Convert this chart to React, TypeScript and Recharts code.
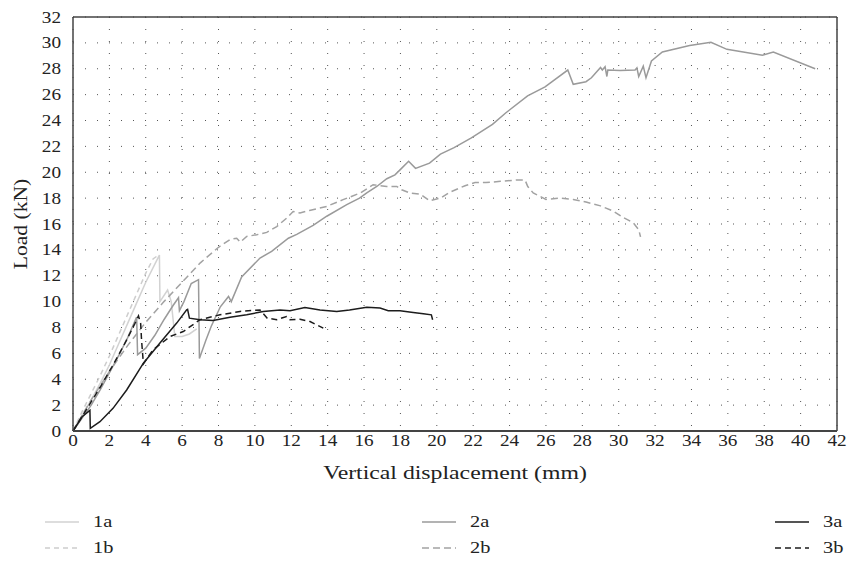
import React from 'react';
import { LineChart, Line, XAxis, YAxis, CartesianGrid, ReferenceLine, Label } from 'recharts';

// ---- data (Vertical displacement mm, Load kN) ----
const s1a: [number, number][] = [
  [0, 0], [0.5, 1.2], [1, 2.4], [1.5, 3.7], [2, 5.1], [2.5, 6.7], [3, 8.3], [3.5, 9.9],
  [4, 11.5], [4.5, 12.9], [4.75, 13.6], [4.78, 10.0], [5.2, 10.9], [5.4, 10.0], [5.6, 7.3],
  [6.0, 7.3], [6.4, 7.5], [6.8, 7.9],
];
const s1b: [number, number][] = [
  [0, 0], [0.5, 1.5], [1, 2.9], [1.5, 4.3], [2, 5.8], [2.5, 7.4], [3, 9.0], [3.5, 10.6],
  [4, 12.2], [4.4, 13.3], [4.6, 13.5],
];
const s2a: [number, number][] = [
  [0, 0], [0.5, 1.0], [1, 2.0], [1.5, 3.2], [2, 4.5], [2.5, 5.8], [3, 7.2], [3.5, 8.8],
  [3.55, 5.9], [4, 6.4], [4.5, 7.4], [5, 8.6], [5.5, 9.7], [5.8, 10.3], [5.85, 9.3],
  [6.1, 10.0], [6.5, 11.4], [6.9, 11.7], [6.95, 5.6], [7.3, 7.0], [7.6, 8.1], [8.1, 9.6],
  [8.55, 10.4], [8.7, 10.0], [9.27, 11.9], [10.28, 13.37], [10.92, 13.88], [11.84, 14.9],
  [12.3, 15.2], [13.2, 15.9], [13.95, 16.6], [15.05, 17.5], [15.75, 18.0], [16.15, 18.4],
  [16.7, 18.9], [17.25, 19.5], [17.7, 19.8], [18.06, 20.3], [18.45, 20.85], [18.83, 20.3],
  [19.6, 20.7], [20.2, 21.4], [20.95, 21.9], [21.9, 22.65], [23.06, 23.7], [23.8, 24.6],
  [24.99, 25.9], [25.95, 26.6], [27.2, 27.9], [27.5, 26.8], [28.2, 27.0], [28.5, 27.3],
  [29.0, 28.1], [29.1, 27.9], [29.25, 28.15], [29.35, 27.4], [29.4, 27.9], [30.07, 27.86],
  [30.9, 27.9], [31.0, 28.07], [31.1, 27.4], [31.35, 28.2], [31.5, 27.3], [31.8, 28.6],
  [32.4, 29.3], [33.9, 29.8], [35.07, 30.05], [35.95, 29.5], [37.9, 29.05], [38.5, 29.3],
  [40.8, 28.0],
];
const s2b: [number, number][] = [
  [0, 0], [1, 2.4], [2, 4.6], [3, 6.6], [4, 8.4], [5, 10.0], [6, 11.5], [7, 13.0],
  [8, 14.2], [8.63, 14.8], [9.0, 14.9], [9.2, 14.6], [9.55, 15.04], [10.1, 15.17],
  [10.65, 15.35], [11.2, 15.8], [11.75, 16.46], [12.1, 16.97], [12.48, 16.85], [13.0, 17.05],
  [13.95, 17.36], [14.85, 17.88], [15.8, 18.4], [16.5, 19.04], [17.25, 18.9], [17.8, 18.9],
  [18.07, 18.65], [18.5, 18.4], [19.1, 18.3], [19.6, 17.8], [20.2, 18.0], [20.7, 18.45],
  [21.55, 18.96], [22.1, 19.2], [22.7, 19.2], [23.5, 19.3], [24.4, 19.4], [24.85, 19.4],
  [25.0, 18.9], [25.3, 18.4], [26.0, 17.9], [26.8, 18.0], [27.5, 17.9], [28.2, 17.7],
  [29.0, 17.4], [29.7, 17.0], [30.25, 16.5], [30.8, 16.1], [31.1, 15.56], [31.2, 15.0],
];
const s3a: [number, number][] = [
  [0, 0], [0.5, 1.1], [0.93, 1.6], [0.95, 0.2], [1.48, 0.72], [2.2, 1.75], [2.95, 3.17],
  [3.87, 5.24], [4.78, 6.8], [5.7, 8.34], [6.25, 9.36], [6.3, 9.4], [6.4, 8.72], [6.98, 8.6],
  [7.7, 8.54], [8.63, 8.8], [9.55, 8.98], [10.46, 9.24], [11.38, 9.36], [11.93, 9.3],
  [12.75, 9.55], [13.58, 9.36], [14.5, 9.24], [15.2, 9.36], [16.15, 9.57], [16.88, 9.5],
  [17.33, 9.3], [17.98, 9.3], [18.7, 9.16], [19.26, 9.06], [19.7, 8.98], [19.77, 8.6],
];
const s3b: [number, number][] = [
  [0, 0], [0.8, 1.8], [1.5, 3.4], [2.2, 5.1], [2.9, 6.9], [3.4, 8.3], [3.6, 8.9], [3.72, 8.3],
  [3.77, 7.0], [3.87, 5.2], [4.4, 6.27], [5.33, 7.3], [6.06, 7.69], [6.98, 8.6], [8.08, 8.98],
  [9.18, 9.24], [10.28, 9.36], [10.68, 8.72], [11.2, 8.6], [11.74, 8.85], [11.93, 8.6],
  [12.48, 8.64], [13.03, 8.46], [13.76, 7.95],
];

const X_TICKS = [0, 2, 4, 6, 8, 10, 12, 14, 16, 18, 20, 22, 24, 26, 28, 30, 32, 34, 36, 38, 40, 42];
const Y_TICKS = [0, 2, 4, 6, 8, 10, 12, 14, 16, 18, 20, 22, 24, 26, 28, 30, 32];
const X_LABEL = 'Vertical displacement (mm)';
const Y_LABEL = 'Load (kN)';

const SERIES = [
  { name: '1a', data: s1a, color: '#d2d2d2', dash: undefined as string | undefined },
  { name: '1b', data: s1b, color: '#cdcdcd', dash: '5 4' },
  { name: '2a', data: s2a, color: '#9a9a9a', dash: undefined },
  { name: '2b', data: s2b, color: '#a2a2a2', dash: '7 4' },
  { name: '3a', data: s3a, color: '#1c1c1c', dash: undefined },
  { name: '3b', data: s3b, color: '#1c1c1c', dash: '6 4' },
];

const FONT = '"Liberation Serif", "Times New Roman", serif';
const SX = 1.2;
const TXT = '#222';

const XTick = (props: any) => {
  const { x, y, payload } = props;
  return (
    <text transform={`translate(${x},${y}) scale(${SX},1)`} x={0} y={0} dy="0.71em"
      textAnchor="middle" fontFamily={FONT} style={{ fontFamily: FONT, fontSize: 16 }} fill={TXT}>
      {payload.value}
    </text>
  );
};

const YTick = (props: any) => {
  const { x, y, payload } = props;
  return (
    <text transform={`translate(${x},${y}) scale(${SX},1)`} x={0} y={0} dy="0.35em"
      textAnchor="end" fontFamily={FONT} style={{ fontFamily: FONT, fontSize: 16 }} fill={TXT}>
      {payload.value}
    </text>
  );
};

const XLabelContent = (props: any) => {
  const vb = props.viewBox || {};
  const cx = vb.x + vb.width / 2;
  const cy = vb.y + 48;
  return (
    <text transform={`translate(${cx},${cy}) scale(1.25,1)`} x={0} y={0} textAnchor="middle"
      fontFamily={FONT} style={{ fontFamily: FONT, fontSize: 19 }} fill={TXT}>
      {X_LABEL}
    </text>
  );
};

const YLabelContent = (props: any) => {
  const vb = props.viewBox || {};
  const cx = vb.x + 27;
  const cy = vb.y + vb.height / 2;
  return (
    <text transform={`translate(${cx},${cy}) rotate(-90) scale(1.2,1)`} x={0} y={0} textAnchor="middle"
      fontFamily={FONT} style={{ fontFamily: FONT, fontSize: 18 }} fill={TXT}>
      {Y_LABEL}
    </text>
  );
};

const legendCols = [
  { items: ['1a', '1b'], left: 45 },
  { items: ['2a', '2b'], left: 422 },
  { items: ['3a', '3b'], left: 775 },
];

const LegendBlock = () => (
  <div style={{ position: 'absolute', left: 0, top: 512, width: 850, height: 56 }}>
    {legendCols.map((col) =>
      col.items.map((nm, i) => {
        const s = SERIES.find((q) => q.name === nm)!;
        return (
          <div key={nm} style={{ position: 'absolute', left: col.left, top: i * 26, height: 20, display: 'flex', alignItems: 'center' }}>
            <svg width={34} height={10} style={{ display: 'block' }}>
              <line x1={0} y1={5} x2={34} y2={5} stroke={s.color} strokeWidth={1.5} strokeDasharray={s.dash} />
            </svg>
            <span style={{ marginLeft: 14, fontFamily: FONT, fontSize: 17, color: TXT, display: 'inline-block', transform: `scaleX(${SX})`, transformOrigin: 'left center' }}>{nm}</span>
          </div>
        );
      })
    )}
  </div>
);

export default function App() {
  return (
    <div style={{ position: 'absolute', left: 0, top: 0, width: 850, height: 561, background: '#fff', fontFamily: FONT }}>
      <LineChart width={850} height={561} margin={{ top: 17, right: 13, bottom: 70, left: 0 }}>
        <CartesianGrid stroke="#555" strokeWidth={1} horizontalStrokeDasharray="1 11.13" verticalStrokeDasharray="1 11.9"
          strokeDasharray="1 11" horizontalValues={Y_TICKS} verticalValues={X_TICKS} />
        <XAxis type="number" dataKey="x" domain={[0, 42]} ticks={X_TICKS} interval={0} tickLine={false}
          tickSize={0} tickMargin={4} height={60} tick={<XTick />} axisLine={{ stroke: '#444', strokeWidth: 2 }}
          allowDuplicatedCategory={false}>
          <Label content={<XLabelContent />} />
        </XAxis>
        <YAxis type="number" dataKey="y" domain={[0, 32]} ticks={Y_TICKS} interval={0} tickLine={false}
          tickSize={0} tickMargin={12} width={73} tick={<YTick />} axisLine={{ stroke: '#444', strokeWidth: 1.5 }}>
          <Label content={<YLabelContent />} />
        </YAxis>
        <ReferenceLine y={32} stroke="#444" strokeWidth={1.5} />
        <ReferenceLine x={42} stroke="#444" strokeWidth={1.5} />
        {SERIES.map((s) => (
          <Line key={s.name} name={s.name} data={s.data.map(([x, y]) => ({ x, y }))} dataKey="y" type="linear"
            stroke={s.color} strokeWidth={1.5} strokeDasharray={s.dash} dot={false} activeDot={false}
            isAnimationActive={false} />
        ))}
      </LineChart>
      <LegendBlock />
    </div>
  );
}
